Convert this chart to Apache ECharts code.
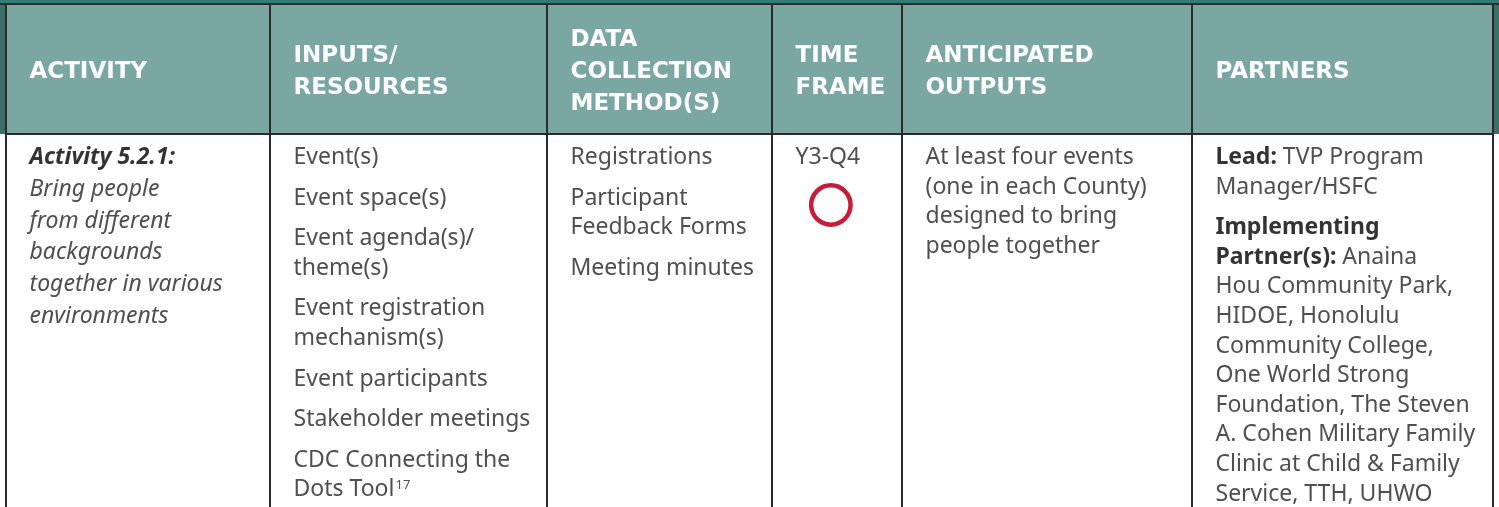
<!DOCTYPE html>
<html><head><meta charset="utf-8">
<script src="https://cdn.jsdelivr.net/npm/echarts@6/dist/echarts.min.js"></script>
<style>html,body{margin:0;padding:0;background:#fff}#c{width:1499px;height:507px}</style>
</head><body><div id="c"></div>
<script>
// ---- content (data) ----
const headers = ['ACTIVITY', 'INPUTS/\nRESOURCES', 'DATA\nCOLLECTION\nMETHOD(S)', 'TIME\nFRAME', 'ANTICIPATED\nOUTPUTS', 'PARTNERS'];
const activity = [['{t|Activity 5.2.1:}', 'Bring people', 'from different', 'backgrounds', 'together in various', 'environments']];
const inputs = [['Event(s)'], ['Event space(s)'], ['Event agenda(s)/', 'theme(s)'], ['Event registration', 'mechanism(s)'], ['Event participants'], ['Stakeholder meetings'], ['CDC Connecting the', 'Dots Tool^17']];
const methods = [['Registrations'], ['Participant', 'Feedback Forms'], ['Meeting minutes']];
const timeFrame = [['Y3-Q4']];
const timeStatus = ['open'];
const outputs = [['At least four events', '(one in each County)', 'designed to bring', 'people together']];
const partners = [['{b|Lead:} TVP Program', 'Manager/HSFC'], ['{b|Implementing}', '{b|Partner(s):} Anaina', 'Hou Community Park,', 'HIDOE, Honolulu', 'Community College,', 'One World Strong', 'Foundation, The Steven', 'A. Cohen Military Family', 'Clinic at Child & Family', 'Service, TTH, UHWO']];
const bodyColumns = [activity, inputs, methods, timeFrame, outputs, partners];

// ---- layout / style ----
const W = 1499, H = 507;
const L = {
  edges: [6, 270, 547, 772, 902, 1192, 1493],
  bandH: 3.5, headTop: 4, headBot: 134, headShift: 3, pad: 23.5, headLH: 32,
  bodyTop: 157.5, lh: 29.6, italicLH: 31.8, gap: 11,
  markerDy: 47.5, markerR: 19.7, markerW: 4.5
};
const C = { band: '#2f7f74', head: '#7ba7a2', side: '#3d6f69', line: '#2b2b2b', text: '#4f4f4f', strong: '#333333', marker: '#c41f3a' };
const BODY_FONT = 'Noto Sans', HEAD_FONT = 'DejaVu Sans';
const BS = 23;

const mctx = document.createElement('canvas').getContext('2d');
function measure(t, font) { mctx.font = font; return mctx.measureText(t).width; }

const chart = echarts.init(document.getElementById('c'), null, { renderer: 'canvas' });

function renderCell(params, api) {
  const i = api.value(0);
  const [x0, yTop] = api.coord([L.edges[i], L.headTop]);
  const [x1, yBot] = api.coord([L.edges[i + 1], L.headBot]);
  const children = [];
  children.push({ type: 'rect', shape: { x: x0, y: yTop, width: x1 - x0, height: yBot - yTop }, style: { fill: C.head } });
  if (i === 0) {
    const a = api.coord([0, L.headTop]);
    children.push({ type: 'rect', shape: { x: a[0], y: yTop, width: x0 - a[0], height: yBot - yTop }, style: { fill: C.side } });
  }
  if (i === headers.length - 1) {
    const b = api.coord([W, L.headTop]);
    children.push({ type: 'rect', shape: { x: x1, y: yTop, width: b[0] - x1, height: yBot - yTop }, style: { fill: C.side } });
  }
  children.push({ type: 'text', style: {
    text: headers[i], x: x0 + L.pad, y: (yTop + yBot) / 2 + L.headShift, align: 'left', verticalAlign: 'middle',
    fontFamily: HEAD_FONT, fontWeight: 'bold', fontSize: 23, lineHeight: L.headLH, fill: '#ffffff'
  } });
  const italic = i === 0;
  const lh = italic ? L.italicLH : L.lh;
  const tx = x0 + L.pad;
  const top = api.coord([0, L.bodyTop])[1];
  let lineNo = 0;
  bodyColumns[i].forEach((para, pi) => {
    para.forEach((line) => {
      const y = top + lineNo * lh + pi * L.gap;
      let main = line, sup = null;
      if (line.indexOf('^') >= 0) { const s = line.split('^'); main = s[0]; sup = s[1]; }
      children.push({ type: 'text', style: {
        text: main, x: tx, y: y, align: 'left', verticalAlign: 'middle',
        fontFamily: BODY_FONT, fontSize: BS, fontStyle: italic ? 'italic' : 'normal', fill: C.text,
        rich: {
          b: { fontFamily: BODY_FONT, fontSize: BS, fontWeight: 'bold', fill: C.strong },
          t: { fontFamily: BODY_FONT, fontSize: BS, fontWeight: 'bold', fontStyle: 'italic', fill: C.strong }
        }
      } });
      if (sup) {
        const w = measure(main, `${BS}px "${BODY_FONT}"`);
        children.push({ type: 'text', style: {
          text: sup, x: tx + w + 1, y: y - 5, align: 'left', verticalAlign: 'middle',
          fontFamily: BODY_FONT, fontSize: 13, fill: C.text
        } });
      }
      lineNo++;
    });
  });
  if (i === 3 && timeStatus[0] === 'open') {
    const w = measure(timeFrame[0][0], `${BS}px "${BODY_FONT}"`);
    children.push({ type: 'circle', shape: { cx: tx + w / 2 + 3, cy: top + L.markerDy, r: L.markerR }, style: { fill: 'none', stroke: C.marker, lineWidth: L.markerW } });
  }
  return { type: 'group', children };
}

function renderLines(params, api) {
  const k = api.value(0);
  const children = [];
  const [x, y0] = api.coord([L.edges[k], L.headTop]);
  const y1 = api.coord([0, H])[1];
  children.push({ type: 'line', shape: { x1: x, y1: y0, x2: x, y2: y1 }, style: { stroke: C.line, lineWidth: 2 } });
  if (k === 0) {
    const a = api.coord([0, 0]), b = api.coord([W, L.bandH]);
    children.push({ type: 'rect', shape: { x: a[0], y: a[1], width: b[0] - a[0], height: b[1] - a[1] }, style: { fill: C.band } });
    const xe = api.coord([L.edges[L.edges.length - 1], 0])[0];
    const yh = api.coord([0, L.headTop])[1], yb = api.coord([0, L.headBot])[1];
    children.push({ type: 'line', shape: { x1: a[0], y1: yh, x2: b[0], y2: yh }, style: { stroke: C.line, lineWidth: 2 } });
    children.push({ type: 'line', shape: { x1: x, y1: yb, x2: xe, y2: yb }, style: { stroke: C.line, lineWidth: 2 } });
  }
  return { type: 'group', children };
}

chart.setOption({
  animation: false,
  backgroundColor: '#ffffff',
  grid: { left: 0, right: 0, top: 0, bottom: 0 },
  xAxis: { type: 'value', min: 0, max: W, show: false },
  yAxis: { type: 'value', min: 0, max: H, inverse: true, show: false },
  series: [
    { type: 'custom', silent: true, clip: false, renderItem: renderCell, data: headers.map((h, i) => [i]), z: 1 },
    { type: 'custom', silent: true, clip: false, renderItem: renderLines, data: L.edges.map((e, k) => [k]), z: 2 }
  ]
});
</script></body></html>
